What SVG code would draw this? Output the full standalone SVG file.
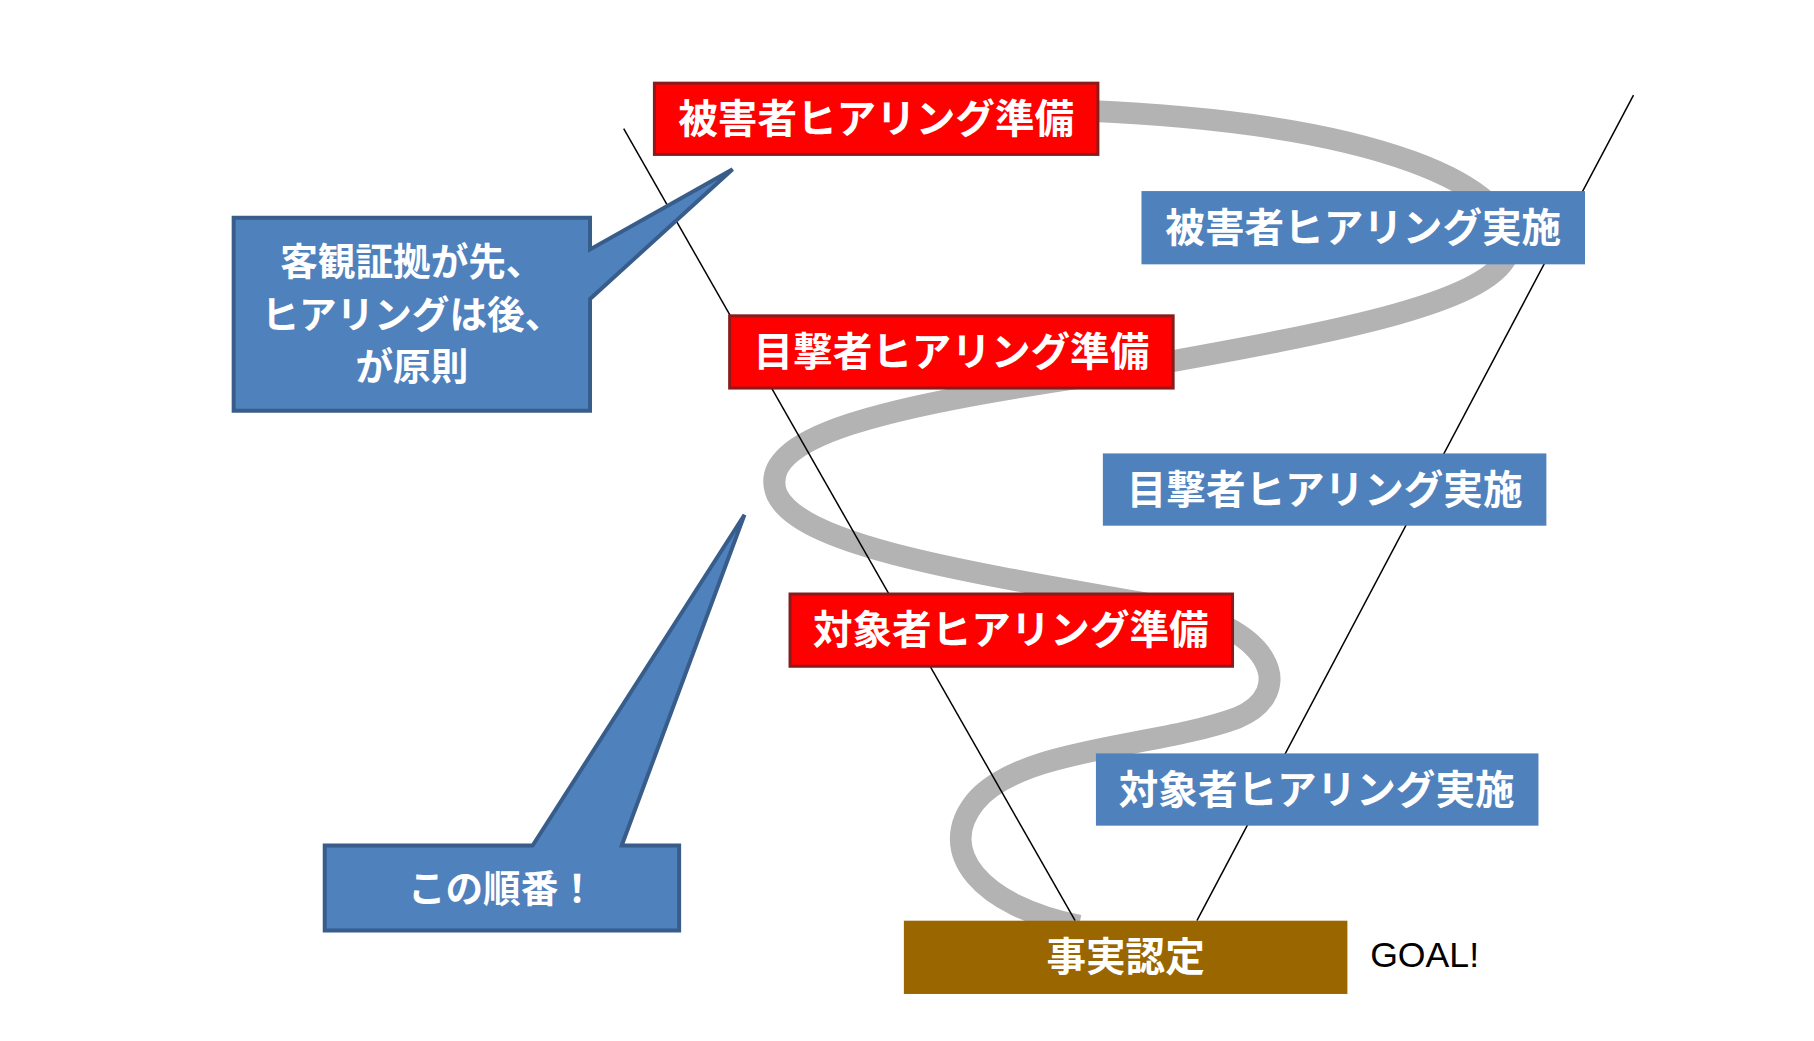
<svg xmlns="http://www.w3.org/2000/svg" width="1814" height="1041" viewBox="0 0 1814 1041">
<style>
text{font-family:"Noto Sans CJK JP","Liberation Sans",sans-serif;font-weight:bold;fill:#fff;text-anchor:middle}
.r{fill:#FF0000;stroke:#8B1A1A;stroke-width:3}
.b{fill:#4F81BD}
.c{fill:#4F81BD;stroke:#385D8A;stroke-width:4}
.t{font-size:40px}
</style>
<rect width="1814" height="1041" fill="#fff"/>
<g transform="scale(0.99)">
<g id="connectors">
<path d="M1100,112 C1400,125 1530,190 1525,250 C1515,310 1320,340 1100,380 C900,410 760,440 785,500 C810,550 960,575 1160,610 C1290,630 1310,700 1250,725 C1170,755 1030,755 985,810 C945,860 990,915 1090,935" fill="none" stroke="#B3B3B3" stroke-width="22"/>
<line x1="630" y1="130" x2="1086" y2="930" stroke="#000" stroke-width="1.5"/>
<line x1="1650" y1="96" x2="1209" y2="930" stroke="#000" stroke-width="1.5"/>
</g>
<g id="n1"><rect class="r" x="661" y="84" width="448" height="72"/><text class="t" x="885" y="134">被害者ヒアリング準備</text></g>
<g id="n2"><rect class="b" x="1153" y="193" width="448" height="74"/><text class="t" x="1377" y="244">被害者ヒアリング実施</text></g>
<g id="n3"><rect class="r" x="737" y="319" width="448" height="73"/><text class="t" x="961" y="370">目撃者ヒアリング準備</text></g>
<g id="n4"><rect class="b" x="1114" y="458" width="448" height="73"/><text class="t" x="1338" y="509">目撃者ヒアリング実施</text></g>
<g id="n5"><rect class="r" x="798" y="600" width="447" height="73"/><text class="t" x="1021" y="651">対象者ヒアリング準備</text></g>
<g id="n6"><rect class="b" x="1107" y="761" width="447" height="73"/><text class="t" x="1330" y="812">対象者ヒアリング実施</text></g>
<g id="n7"><rect x="913" y="930" width="448" height="74" fill="#996600"/><text class="t" x="1137" y="981">事実認定</text></g>
<g id="goal"><text x="1384" y="977" style="font-family:'Liberation Sans',sans-serif;font-weight:normal;fill:#000;text-anchor:start;font-size:36px">GOAL!</text></g>
<g id="callout1"><path class="c" d="M236,220 H596 V252 L740,171 L596,302 V415 H236 Z"/>
<text style="font-size:38px" x="416" y="278">客観証拠が先、</text>
<text style="font-size:38px" x="416" y="331">ヒアリングは後、</text>
<text style="font-size:38px" x="416" y="384">が原則</text></g>
<g id="callout2"><path class="c" d="M328,854 H538 L752,520 L628,854 H686 V940 H328 Z"/>
<text style="font-size:38px" x="507" y="911">この順番！</text></g>
</g>
</svg>
